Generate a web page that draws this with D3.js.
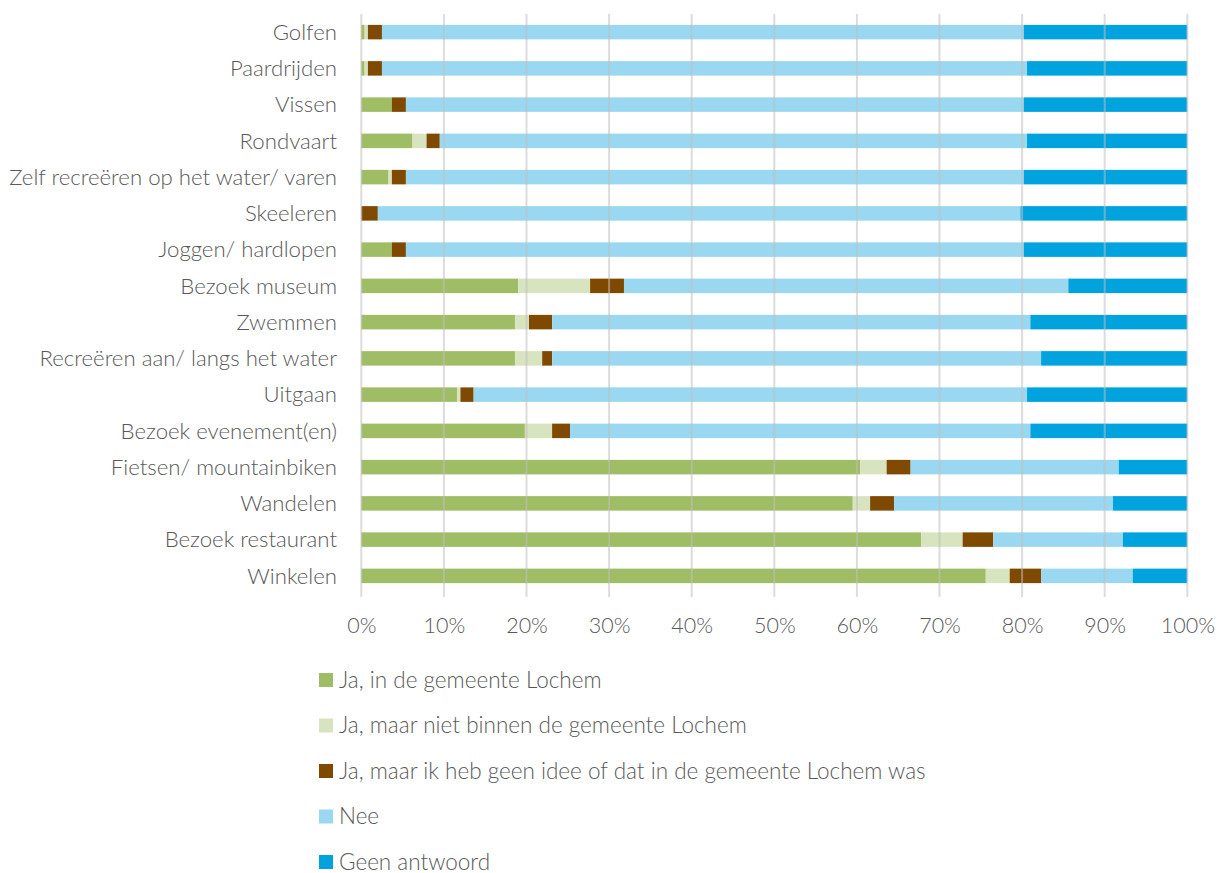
<!DOCTYPE html>
<html>
<head>
<meta charset="utf-8">
<script src="https://cdn.jsdelivr.net/npm/d3@7"></script>
<style>
  body { margin: 0; background: #fff; }
  text { font-family: "Lato", "Open Sans", sans-serif; font-weight: 300; fill: #595959; }
</style>
</head>
<body>
<div id="vis"></div>
<script>
const WIDTH = 1218;
const HEIGHT = 873;

// categorieen (van boven naar onder)
const categorieen = [
    "Golfen", "Paardrijden", "Vissen", "Rondvaart",
    "Zelf recreëren op het water/ varen", "Skeeleren", "Joggen/ hardlopen",
    "Bezoek museum", "Zwemmen", "Recreëren aan/ langs het water", "Uitgaan",
    "Bezoek evenement(en)", "Fietsen/ mountainbiken", "Wandelen",
    "Bezoek restaurant", "Winkelen"
];

const reeksen = [
    "Ja, in de gemeente Lochem",
    "Ja, maar niet binnen de gemeente Lochem",
    "Ja, maar ik heb geen idee of dat in de gemeente Lochem was",
    "Nee",
    "Geen antwoord"
];

const kleuren = ["#9fbd64", "#d8e4bf", "#7f4a00", "#99d8f0", "#00a3dd"];

// percentages per reeks, zelfde volgorde als categorieen
const ja_lochem      = [0.4, 0.4, 3.7, 6.2, 3.3, 0.0, 3.7, 19.0, 18.6, 18.6, 11.6, 19.8, 60.4, 59.5, 67.8, 75.6];
const ja_elders      = [0.4, 0.4, 0.0, 1.7, 0.4, 0.0, 0.0, 8.7, 1.7, 3.3, 0.4, 3.3, 3.2, 2.1, 5.0, 2.9];
const ja_geen_idee   = [1.7, 1.7, 1.7, 1.6, 1.7, 2.0, 1.7, 4.1, 2.8, 1.2, 1.6, 2.2, 2.9, 2.9, 3.7, 3.8];
const nee            = [77.7, 78.1, 74.8, 71.1, 74.8, 77.8, 74.8, 53.8, 57.9, 59.2, 67.0, 55.7, 25.2, 26.5, 15.7, 11.1];
const geen_antwoord  = [19.8, 19.4, 19.8, 19.4, 19.8, 20.2, 19.8, 14.4, 19.0, 17.7, 19.4, 19.0, 8.3, 9.0, 7.8, 6.6];

const ticks = [0, 10, 20, 30, 40, 50, 60, 70, 80, 90, 100];

const SVG = d3.select("#vis").append("svg")
    .attr("width", WIDTH).attr("height", HEIGHT);

const waarden = [ja_lochem, ja_elders, ja_geen_idee, nee, geen_antwoord];
const data = categorieen.map((c, i) => {
    let rij = { categorie: c };
    reeksen.forEach((r, j) => rij[r] = waarden[j][i]);
    return rij;
});

const x = d3.scaleLinear().domain([0, 100]).range([361.3, 1187.3]);
const y = d3.scaleBand().domain(categorieen).range([14, 594]).paddingInner(0.6).paddingOuter(0.3);

const stack = d3.stack().keys(reeksen)(data);

// balken
SVG.append("g")
    .selectAll("g")
    .data(stack)
    .join("g")
    .attr("fill", (d, i) => kleuren[i])
    .selectAll("rect")
    .data(d => d)
    .join("rect")
    .attr("x", d => x(d[0]))
    .attr("y", d => y(d.data.categorie))
    .attr("width", d => Math.max(0, x(d[1]) - x(d[0])))
    .attr("height", y.bandwidth());

// rasterlijnen (boven de balken, half doorzichtig)
SVG.append("g")
    .selectAll("line")
    .data(ticks)
    .join("line")
    .attr("x1", d => x(d)).attr("x2", d => x(d))
    .attr("y1", 14).attr("y2", 597)
    .attr("stroke", "#bfbfbf")
    .attr("stroke-opacity", 0.55)
    .attr("stroke-width", 2);

// x-as
const xAs = SVG.append("g")
    .attr("transform", "translate(0,597)")
    .call(d3.axisBottom(x).tickValues(ticks).tickFormat(d => d + "%").tickSize(0).tickPadding(21));
xAs.select(".domain").remove();
xAs.selectAll("text").attr("font-size", 21.5).style("font-family", null);

// y-as
const yAs = SVG.append("g")
    .attr("transform", "translate(337,0)")
    .call(d3.axisLeft(y).tickSize(0).tickPadding(0));
yAs.select(".domain").remove();
yAs.selectAll("text").attr("font-size", 22.2).attr("dy", "0.35em").style("font-family", null);

// legenda
const legenda = SVG.append("g")
    .selectAll("g")
    .data(reeksen)
    .join("g")
    .attr("transform", (d, i) => `translate(319, ${680 + i * 45.5})`);

legenda.append("rect")
    .attr("x", 0).attr("y", -7)
    .attr("width", 14).attr("height", 14)
    .attr("fill", (d, i) => kleuren[i]);

legenda.append("text")
    .attr("x", 20)
    .attr("dy", "0.35em")
    .attr("font-size", 22.5)
    .text(d => d);
</script>
</body>
</html>
